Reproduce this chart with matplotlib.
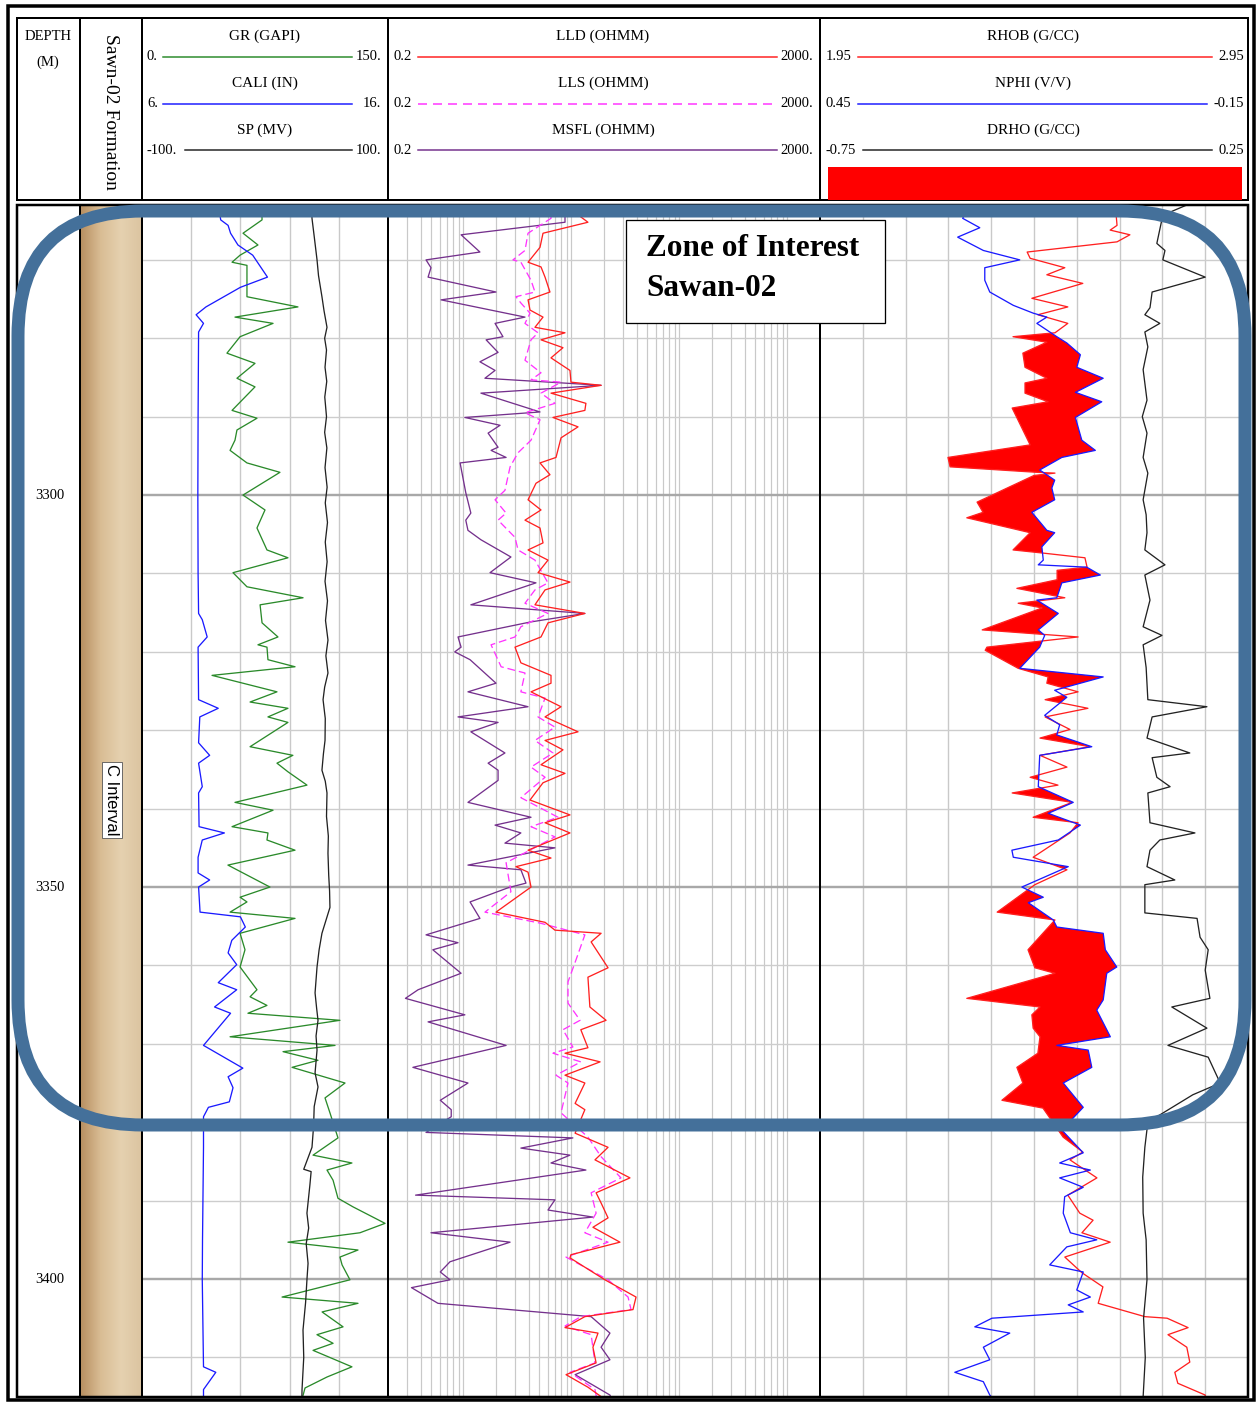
import numpy as np
import matplotlib.pyplot as plt
from matplotlib.patches import FancyBboxPatch, Rectangle

plt.rcParams['font.family'] = ['Liberation Serif', 'DejaVu Serif']

TOP, BASE = 3263.0, 3415.05

# (depth m, value) pairs
gr = [(3263.0, 73), (3264.9, 73.2), (3266.6, 61.6), (3268.1, 70.7), (3269.4, 59.8), (3270.3, 54.9),
      (3270.7, 64.0), (3274.7, 64.0), (3276.0, 95.1), (3277.3, 56.7), (3278.1, 79.9), (3279.8, 59.8),
      (3281.9, 51.8), (3283.2, 68.9), (3285.1, 57.9), (3286.2, 68.9), (3289.2, 54.9), (3290.2, 70.1),
      (3291.7, 57.9), (3293.0, 56.7), (3294.3, 53.7), (3295.9, 64.0), (3297.1, 84.1), (3300.0, 61.6),
      (3301.9, 75.0), (3304.2, 70.1), (3307.0, 76.2), (3308.0, 89.0), (3309.9, 55.5), (3311.7, 64.0),
      (3313.1, 98.2), (3314.0, 72.0), (3316.3, 73.2), (3318.1, 82.9), (3319.1, 70.7), (3319.4, 76.2),
      (3321.0, 76.8), (3321.9, 93.3), (3323.0, 42.7), (3325.1, 82.3), (3326.4, 65.9), (3327.2, 89.0),
      (3328.3, 76.8), (3329.0, 89.0), (3332.1, 65.9), (3333.2, 92.0), (3334.2, 82.3), (3335.3, 89.0),
      (3337.0, 100.6), (3339.2, 56.7), (3340.2, 79.9), (3342.3, 54.9), (3343.1, 76.8), (3344.0, 76.2),
      (3345.3, 93.3), (3347.2, 52.4), (3350.0, 78.0), (3351.3, 59.8), (3351.9, 64.0), (3353.2, 53.7),
      (3354.0, 93.3), (3355.9, 59.8), (3358.0, 62.8), (3360.2, 59.8), (3363.1, 70.1), (3364.0, 65.9),
      (3365.1, 76.2), (3366.1, 64.6), (3367.0, 120.7), (3369.1, 53.7), (3370.2, 117.7), (3371.0, 86.0),
      (3372.1, 107.3), (3373.0, 91.5), (3375.0, 123.8), (3376.9, 111.6), (3378.8, 114.6), (3382.0, 119.5),
      (3384.2, 104.3), (3385.2, 128.0), (3386.1, 112.8), (3387.4, 116.5), (3389.7, 119.5), (3390.8, 128.7),
      (3392.9, 148.2), (3394.1, 132.9), (3395.3, 89.0), (3396.3, 131.7), (3397.2, 120.7), (3398.2, 122.0),
      (3400.1, 126.8), (3402.3, 85.4), (3403.1, 131.7), (3404.2, 109.8), (3406.1, 122.6), (3407.1, 106.7),
      (3408.2, 116.5), (3409.1, 104.3), (3411.2, 128.0), (3412.5, 112.8), (3413.9, 99.4), (3415.0, 98.0)]

cali = [(3263.0, 9.1), (3264.9, 9.2), (3265.6, 9.5), (3266.6, 9.6), (3268.1, 9.9), (3269.4, 10.5),
        (3272.2, 11.1), (3273.5, 10.0), (3276.0, 8.6), (3277.0, 8.2), (3278.1, 8.5), (3279.2, 8.3),
        (3290.0, 8.28), (3300.0, 8.27), (3310.0, 8.28), (3315.1, 8.3), (3315.9, 8.45), (3318.1, 8.65),
        (3319.4, 8.28), (3326.1, 8.3), (3327.2, 9.1), (3328.3, 8.35), (3331.6, 8.3), (3333.2, 8.75),
        (3334.2, 8.3), (3337.2, 8.45), (3338.0, 8.3), (3342.3, 8.32), (3343.1, 9.35), (3344.0, 8.45),
        (3346.2, 8.28), (3348.2, 8.28), (3349.1, 8.75), (3350.0, 8.3), (3353.2, 8.36), (3353.8, 10.0),
        (3355.1, 10.2), (3356.8, 9.65), (3358.4, 9.5), (3359.9, 9.85), (3362.2, 9.1), (3363.1, 9.85),
        (3365.3, 8.95), (3366.1, 9.6), (3370.2, 8.5), (3373.1, 10.1), (3374.2, 9.5), (3375.6, 9.7),
        (3377.4, 9.55), (3378.1, 8.7), (3379.3, 8.5), (3383.2, 8.5), (3395.0, 8.46), (3400.1, 8.45),
        (3411.2, 8.5), (3411.9, 9.0), (3414.1, 8.5), (3415.0, 8.5)]

sp = [(3263.0, 38.0), (3264.7, 38.2), (3267.0, 40.0), (3270.0, 42.3), (3272.0, 43.5), (3274.7, 46.3),
      (3276.5, 48.0), (3278.6, 50.4), (3280.0, 48.5), (3281.5, 50.0), (3283.7, 48.8), (3285.5, 50.2),
      (3287.5, 48.6), (3290.0, 50.0), (3292.0, 48.5), (3294.0, 50.3), (3296.5, 48.8), (3299.0, 50.5),
      (3301.0, 49.0), (3303.5, 50.8), (3306.0, 49.0), (3308.5, 50.5), (3311.0, 48.8), (3313.5, 50.8),
      (3316.0, 49.2), (3318.5, 51.2), (3320.5, 49.5), (3322.7, 51.2), (3324.5, 48.5), (3326.1, 47.2),
      (3328.5, 49.0), (3331.3, 48.8), (3333.0, 47.5), (3335.1, 46.3), (3336.5, 49.0), (3338.0, 50.4),
      (3341.0, 50.0), (3343.5, 51.5), (3345.7, 51.2), (3348.5, 51.8), (3350.5, 52.5), (3352.6, 52.8),
      (3355.9, 46.3), (3358.0, 44.0), (3360.2, 42.3), (3363.5, 40.7), (3365.5, 42.0), (3367.0, 43.1),
      (3369.0, 41.5), (3370.8, 42.3), (3373.7, 40.7), (3375.5, 43.1), (3378.0, 40.0), (3380.5, 39.5),
      (3383.2, 38.2), (3386.0, 31.5), (3386.3, 37.5), (3388.0, 36.5), (3391.6, 34.1), (3393.5, 35.5),
      (3395.5, 33.5), (3398.0, 35.0), (3400.1, 34.1), (3403.0, 33.0), (3406.5, 30.9), (3410.0, 31.5),
      (3414.1, 30.1), (3415.0, 30.0)]

lld = [(3263.0, 8.7), (3265.2, 14.2), (3266.6, 5.45), (3268.4, 5.11), (3270.3, 3.96), (3270.9, 5.22),
       (3272.2, 5.69), (3274.1, 6.32), (3275.1, 3.96), (3276.4, 4.13), (3277.3, 5.45), (3278.6, 4.59),
       (3279.3, 8.71), (3280.2, 5.22), (3281.2, 8.34), (3282.5, 6.46), (3284.1, 9.68), (3285.6, 9.89),
       (3286.0, 18.8), (3287.0, 6.46), (3288.3, 13.6), (3289.2, 13.3), (3290.1, 6.74), (3291.3, 11.5),
       (3292.7, 8.0), (3295.2, 7.19), (3295.9, 5.11), (3297.4, 6.32), (3298.5, 4.69), (3300.6, 3.96),
       (3301.9, 5.22), (3303.2, 3.71), (3304.2, 5.11), (3306.1, 5.45), (3307.0, 3.96), (3308.3, 6.06),
       (3309.9, 4.9), (3311.1, 9.68), (3312.1, 5.69), (3314.0, 4.59), (3315.1, 13.3), (3316.3, 6.06),
       (3318.1, 5.22), (3319.4, 3.0), (3321.4, 3.40), (3323.0, 6.46), (3324.0, 6.46), (3325.1, 4.22),
       (3327.0, 8.0), (3328.3, 5.69), (3330.2, 11.5), (3331.3, 5.69), (3332.5, 8.34), (3334.4, 5.22),
       (3335.5, 8.71), (3336.7, 5.45), (3338.9, 4.13), (3340.8, 9.68), (3341.8, 5.69), (3343.1, 9.68),
       (3345.3, 3.96), (3346.3, 6.46), (3347.4, 3.06), (3348.1, 3.96), (3350.0, 4.22), (3353.2, 2.0),
       (3354.5, 5.69), (3355.5, 7.03), (3355.9, 18.8), (3357.0, 15.2), (3360.3, 21.8), (3361.5, 14.2),
       (3365.3, 14.8), (3367.0, 20.9), (3368.2, 12.2), (3370.5, 14.2), (3371.2, 8.71), (3372.3, 18.4),
       (3374.0, 8.71), (3375.0, 13.3), (3377.6, 10.8), (3378.4, 13.3), (3381.4, 10.8), (3383.2, 21.8),
       (3384.8, 16.5), (3387.1, 34.8), (3389.0, 16.9), (3390.3, 18.8), (3392.2, 21.8), (3393.4, 15.8),
       (3395.3, 28.1), (3396.9, 9.89), (3397.3, 9.68), (3400.1, 20.4), (3402.3, 39.6), (3403.9, 37.1),
       (3404.8, 13.3), (3406.2, 8.71), (3406.9, 17.6), (3408.7, 15.8), (3410.7, 16.9), (3412.2, 8.9),
       (3413.8, 14.2), (3415.0, 18.8)]

lls = [(3263.0, 6.5), (3264.7, 6.46), (3266.6, 3.96), (3268.8, 3.71), (3270.0, 2.87), (3270.3, 3.40),
       (3272.6, 4.22), (3274.1, 4.59), (3274.7, 3.06), (3275.5, 3.40), (3276.8, 4.13), (3278.1, 3.71),
       (3279.3, 4.9), (3280.2, 4.22), (3282.8, 3.71), (3284.4, 5.22), (3285.3, 4.22), (3285.6, 8.0),
       (3287.0, 5.22), (3288.3, 7.03), (3289.5, 3.71), (3290.4, 5.11), (3293.0, 4.22), (3294.6, 3.2),
       (3296.4, 2.70), (3299.4, 2.42), (3300.6, 1.96), (3302.3, 2.48), (3303.2, 2.09), (3305.4, 3.0),
       (3307.0, 3.2), (3308.3, 4.59), (3311.2, 6.06), (3312.1, 4.59), (3313.8, 3.71), (3315.1, 6.06),
       (3316.8, 3.40), (3318.1, 3.0), (3319.1, 1.80), (3321.9, 2.23), (3322.7, 3.71), (3325.1, 3.40),
       (3325.9, 5.69), (3328.3, 4.9), (3329.6, 7.03), (3331.3, 4.59), (3332.9, 6.74), (3334.7, 4.22),
       (3336.0, 5.69), (3338.6, 3.40), (3341.1, 7.5), (3342.3, 4.22), (3343.6, 7.03), (3346.9, 2.48),
       (3350.6, 2.75), (3353.2, 1.58), (3354.6, 5.11), (3356.1, 13.3), (3359.3, 11.0), (3362.1, 9.28),
       (3364.8, 9.28), (3367.0, 12.0), (3368.2, 8.34), (3370.4, 10.3), (3371.2, 6.74), (3372.3, 12.2),
       (3374.0, 7.19), (3375.0, 9.28), (3378.8, 8.0), (3381.9, 14.2), (3384.4, 18.8), (3387.1, 28.7),
       (3389.0, 15.2), (3391.6, 16.9), (3394.1, 13.3), (3395.3, 21.8), (3397.2, 8.9), (3400.1, 21.8),
       (3402.3, 33.4), (3403.9, 35.6), (3404.8, 12.2), (3406.0, 8.71), (3407.1, 15.2), (3410.7, 16.5),
       (3411.9, 9.68), (3414.1, 16.5), (3415.0, 17.0)]

msfl = [(3263.0, 8.7), (3265.2, 8.71), (3266.8, 0.95), (3269.0, 1.42), (3270.0, 0.45), (3271.0, 0.50),
        (3272.2, 0.47), (3274.1, 2.0), (3275.1, 0.62), (3277.3, 3.71), (3278.1, 1.96), (3279.8, 2.32),
        (3280.2, 1.62), (3281.8, 2.09), (3283.0, 1.42), (3284.1, 1.96), (3285.1, 1.58), (3286.0, 18.8),
        (3287.0, 1.45), (3289.4, 5.11), (3290.1, 1.03), (3291.1, 2.18), (3292.1, 1.69), (3293.9, 2.09),
        (3294.3, 1.80), (3295.2, 2.48), (3295.9, 0.93), (3299.7, 1.05), (3302.3, 1.17), (3303.2, 1.05),
        (3304.5, 1.10), (3305.7, 1.45), (3307.9, 2.75), (3309.9, 1.76), (3311.2, 4.69), (3314.0, 1.17),
        (3315.1, 13.3), (3316.2, 4.13), (3318.1, 0.89), (3319.4, 0.95), (3320.0, 0.83), (3321.0, 1.15),
        (3324.0, 2.0), (3325.1, 1.10), (3327.0, 3.96), (3328.3, 0.89), (3329.0, 2.09), (3330.2, 1.17),
        (3332.9, 2.42), (3334.2, 1.69), (3335.1, 2.09), (3336.4, 2.09), (3339.2, 1.10), (3341.1, 4.22),
        (3342.1, 1.96), (3343.1, 3.40), (3344.4, 2.42), (3345.0, 7.03), (3347.2, 1.10), (3347.8, 3.40),
        (3349.5, 3.79), (3350.1, 2.58), (3351.9, 1.15), (3354.0, 1.42), (3356.1, 0.45), (3357.1, 0.89),
        (3358.0, 0.52), (3361.0, 0.95), (3363.1, 0.38), (3364.2, 0.29), (3366.3, 1.03), (3367.2, 0.47),
        (3370.2, 2.48), (3373.0, 0.34), (3375.0, 1.10), (3377.2, 0.61), (3378.4, 0.77), (3379.3, 0.77),
        (3381.3, 0.45), (3382.0, 10.3), (3383.3, 3.40), (3384.2, 9.68), (3385.2, 6.46), (3386.1, 13.6),
        (3389.3, 0.36), (3389.9, 7.03), (3391.2, 6.06), (3392.1, 15.8), (3394.1, 0.50), (3395.3, 2.70),
        (3397.8, 0.75), (3399.1, 0.61), (3400.1, 0.75), (3401.1, 0.33), (3403.1, 0.58), (3404.8, 15.2),
        (3406.9, 22.7), (3408.7, 18.8), (3410.3, 22.7), (3412.2, 10.8), (3414.8, 22.7), (3415.0, 23.0)]

rhob = [(3263.0, 2.64), (3265.6, 2.644), (3266.2, 2.628), (3266.8, 2.674), (3267.7, 2.644), (3269.0, 2.434),
        (3269.8, 2.441), (3271.0, 2.522), (3271.9, 2.48), (3273.0, 2.564), (3274.9, 2.445), (3276.0, 2.529),
        (3277.0, 2.459), (3278.1, 2.529), (3279.3, 2.499), (3279.8, 2.401), (3280.5, 2.48), (3281.9, 2.424),
        (3283.7, 2.429), (3285.1, 2.48), (3285.7, 2.429), (3287.0, 2.429), (3288.1, 2.483), (3288.9, 2.399),
        (3293.6, 2.441), (3295.2, 2.249), (3296.4, 2.254), (3297.1, 2.457), (3297.2, 2.499), (3297.5, 2.45),
        (3300.9, 2.317), (3302.2, 2.331), (3302.9, 2.293), (3304.8, 2.441), (3307.0, 2.401), (3307.4, 2.471),
        (3308.0, 2.569), (3309.2, 2.574), (3309.6, 2.504), (3310.8, 2.504), (3311.9, 2.41), (3313.1, 2.522),
        (3313.8, 2.413), (3314.4, 2.469), (3317.2, 2.329), (3318.1, 2.553), (3319.4, 2.34), (3319.8, 2.336),
        (3322.1, 2.413), (3323.2, 2.483), (3324.0, 2.48), (3325.1, 2.553), (3326.1, 2.476), (3327.2, 2.576),
        (3328.3, 2.476), (3329.9, 2.534), (3331.0, 2.464), (3332.1, 2.581), (3333.2, 2.464), (3334.7, 2.527),
        (3336.0, 2.441), (3337.0, 2.506), (3338.0, 2.399), (3339.2, 2.539), (3341.1, 2.448), (3341.8, 2.553),
        (3343.1, 2.534), (3346.2, 2.448), (3347.8, 2.527), (3349.7, 2.452), (3353.2, 2.364), (3354.2, 2.499),
        (3358.0, 2.436), (3360.3, 2.452), (3361.0, 2.499), (3364.2, 2.293), (3365.3, 2.464), (3366.3, 2.445),
        (3368.0, 2.448), (3369.1, 2.464), (3371.2, 2.459), (3373.0, 2.41), (3375.0, 2.424), (3377.2, 2.375),
        (3378.2, 2.471), (3381.9, 2.518), (3383.8, 2.564), (3384.8, 2.534), (3387.1, 2.597), (3389.3, 2.529),
        (3391.6, 2.557), (3392.5, 2.588), (3394.1, 2.562), (3395.3, 2.628), (3397.2, 2.522), (3399.2, 2.562),
        (3401.0, 2.611), (3403.1, 2.60), (3404.8, 2.709), (3405.0, 2.761), (3406.2, 2.81), (3407.1, 2.763),
        (3408.7, 2.807), (3410.6, 2.814), (3411.9, 2.779), (3413.3, 2.786), (3414.8, 2.85), (3415.0, 2.85)]

nphi = [(3263.0, 0.24), (3264.7, 0.25), (3265.9, 0.226), (3267.1, 0.257), (3268.8, 0.221), (3270.0, 0.17),
        (3271.0, 0.219), (3272.6, 0.219), (3274.1, 0.212), (3275.8, 0.179), (3276.8, 0.151), (3277.3, 0.132),
        (3278.1, 0.146), (3279.8, 0.118), (3280.6, 0.104), (3282.1, 0.085), (3283.7, 0.09), (3285.1, 0.053),
        (3286.9, 0.092), (3288.1, 0.055), (3290.1, 0.092), (3293.0, 0.083), (3294.3, 0.064), (3295.2, 0.111),
        (3296.8, 0.142), (3298.1, 0.121), (3299.1, 0.125), (3300.6, 0.121), (3302.2, 0.153), (3304.5, 0.132),
        (3304.8, 0.121), (3306.6, 0.139), (3308.3, 0.137), (3308.9, 0.144), (3309.2, 0.076), (3310.2, 0.057),
        (3311.2, 0.111), (3313.1, 0.118), (3313.4, 0.146), (3315.1, 0.116), (3317.2, 0.144), (3317.9, 0.135),
        (3319.4, 0.142), (3322.1, 0.17), (3323.2, 0.053), (3324.9, 0.121), (3325.8, 0.104), (3328.1, 0.135),
        (3329.3, 0.114), (3330.6, 0.118), (3332.1, 0.069), (3333.2, 0.142), (3337.2, 0.144), (3339.2, 0.095),
        (3340.6, 0.13), (3342.1, 0.085), (3344.0, 0.116), (3345.3, 0.181), (3346.2, 0.179), (3347.4, 0.102),
        (3350.0, 0.167), (3351.3, 0.137), (3352.0, 0.158), (3354.2, 0.123), (3355.1, 0.118), (3355.9, 0.053),
        (3358.0, 0.05), (3360.2, 0.034), (3361.0, 0.048), (3364.4, 0.053), (3365.7, 0.062), (3369.1, 0.043),
        (3370.2, 0.118), (3370.8, 0.074), (3373.0, 0.069), (3375.0, 0.109), (3378.1, 0.081), (3381.0, 0.111),
        (3383.9, 0.081), (3385.2, 0.114), (3386.1, 0.071), (3387.1, 0.114), (3388.3, 0.081), (3389.5, 0.107),
        (3391.6, 0.109), (3394.1, 0.099), (3395.0, 0.062), (3395.9, 0.104), (3398.2, 0.128), (3399.1, 0.081),
        (3401.4, 0.09), (3402.3, 0.071), (3403.3, 0.102), (3404.2, 0.081), (3405.0, 0.209), (3406.1, 0.233),
        (3406.9, 0.184), (3408.7, 0.221), (3410.3, 0.212), (3411.9, 0.261), (3413.1, 0.221), (3414.8, 0.212),
        (3415.0, 0.21)]

drho = [(3263.0, 0.107), (3264.3, 0.051), (3267.9, 0.037), (3268.8, 0.056), (3270.0, 0.051), (3272.2, 0.15),
        (3274.1, 0.026), (3276.1, 0.021), (3277.0, 0.009), (3278.1, 0.044), (3279.2, 0.009), (3281.1, 0.016),
        (3284.0, 0.005), (3287.9, 0.014), (3290.0, 0.003), (3292.1, 0.014), (3295.2, 0.005), (3297.2, 0.016),
        (3300.6, 0.005), (3302.5, 0.012), (3304.8, 0.014), (3307.0, 0.009), (3308.9, 0.056), (3310.2, 0.009),
        (3313.4, 0.021), (3316.8, 0.005), (3317.9, 0.049), (3319.1, 0.005), (3322.0, 0.012), (3326.1, 0.016),
        (3327.0, 0.154), (3328.3, 0.026), (3331.0, 0.014), (3332.9, 0.114), (3333.5, 0.026), (3336.0, 0.037),
        (3337.2, 0.068), (3338.0, 0.016), (3341.8, 0.021), (3343.1, 0.126), (3344.0, 0.044), (3345.3, 0.021),
        (3347.4, 0.014), (3349.1, 0.079), (3349.7, 0.009), (3353.3, 0.009), (3354.0, 0.131), (3356.4, 0.138),
        (3358.0, 0.157), (3360.6, 0.15), (3364.2, 0.161), (3365.3, 0.072), (3368.0, 0.154), (3370.2, 0.063),
        (3371.7, 0.157), (3375.0, 0.185), (3376.5, 0.121), (3380.0, 0.016), (3383.2, 0.009), (3387.0, 0.004),
        (3391.6, 0.005), (3395.0, 0.012), (3400.1, 0.014), (3405.0, 0.006), (3410.0, 0.01), (3415.0, 0.005)]

depth_labels = [3300, 3350, 3400]


def unzip(pairs):
    a = np.array(pairs)
    return a[:, 0], a[:, 1]


W, H = 1259, 1408
PT = 0.72  # points per pixel at 100 dpi
fig = plt.figure(figsize=(W / 100, H / 100), dpi=100)
fig.patch.set_facecolor('white')


def track_axes(x0, x1, y0=205, y1=1397):
    ax = fig.add_axes([x0 / W, 1 - y1 / H, (x1 - x0) / W, (y1 - y0) / H])
    ax.set_ylim(BASE, TOP)
    ax.axis('off')
    return ax


def twin(ax, lo, hi, log=False):
    tw = ax.twiny()
    if log:
        tw.set_xscale('log')
    tw.set_xlim(lo, hi)
    tw.set_ylim(BASE, TOP)
    tw.axis('off')
    return tw


def depth_grid(ax):
    for d in range(3270, 3415, 10):
        major = d % 50 == 0
        ax.axhline(d, color='#a8a8a8' if major else '#cdcdcd',
                   lw=(2.4 if major else 1.4) * PT, zorder=0)


GRID = '#c9c9c9'
LW = 1.3 * PT

# track 1: GR / CALI / SP
t1 = track_axes(142, 388)
t1.set_xlim(0, 150)
for v in [30, 60, 90, 120]:
    t1.axvline(v, color=GRID, lw=1.4 * PT, zorder=0)
depth_grid(t1)
d, v = unzip(gr)
t1.plot(v, d, color='#2a8a2a', lw=LW)
t1c = twin(t1, 6, 16)
d, v = unzip(cali)
t1c.plot(v, d, color='#1a1aff', lw=LW)
t1s = twin(t1, -100, 100)
d, v = unzip(sp)
t1s.plot(v, d, color='#222222', lw=LW)

# track 2: resistivity, log scale
t2 = track_axes(388, 820)
t2.set_xscale('log')
t2.set_xlim(0.2, 2000)
for dec in [0.1, 1, 10, 100, 1000]:
    for m in range(1, 10):
        g = m * dec
        if 0.2 < g < 2000:
            t2.axvline(g, color=GRID, lw=1.2 * PT, zorder=0)
depth_grid(t2)
d, v = unzip(msfl)
t2.plot(v, d, color='#74308c', lw=LW, zorder=3)
t2b = twin(t2, 0.2, 2000, log=True)
d, v = unzip(lls)
t2b.plot(v, d, color='#ff33ff', lw=LW, ls=(0, (6, 3)))
t2c = twin(t2, 0.2, 2000, log=True)
d, v = unzip(lld)
t2c.plot(v, d, color='#ff2020', lw=LW)

# track 3: density / neutron / drho
t3 = track_axes(820, 1248)
t3.set_xlim(1.95, 2.95)
for g in np.arange(2.05, 2.95, 0.1):
    t3.axvline(g, color=GRID, lw=1.4 * PT, zorder=0)
depth_grid(t3)
rd, rv = unzip(rhob)
nd, nv = unzip(nphi)
zz = np.linspace(TOP, BASE, 6000)
rh = np.interp(zz, rd, rv)
nph_eq = 1.95 + (0.45 - np.interp(zz, nd, nv)) / 0.6
t3.fill_betweenx(zz, rh, nph_eq, where=nph_eq > rh, color='#ff0000', lw=0,
                 interpolate=True, zorder=1)
t3.plot(rv, rd, color='#ff2020', lw=LW, zorder=2)
t3n = twin(t3, 0.45, -0.15)
t3n.plot(nv, nd, color='#1a1aff', lw=LW)
t3d = twin(t3, -0.75, 0.25)
d, v = unzip(drho)
t3d.plot(v, d, color='#222222', lw=LW)

# depth track
td = track_axes(17, 80)
td.set_xlim(0, 1)
for dl in depth_labels:
    td.text(0.52, dl, str(dl), ha='center', va='center', fontsize=10.5)

# formation strip
tf = track_axes(80, 142)
grad = np.linspace(0, 1, 64)
cols = np.array([[0.72, 0.56, 0.38], [0.85, 0.74, 0.58], [0.90, 0.82, 0.69], [0.86, 0.77, 0.63]])
xs = np.linspace(0, 1, len(cols))
img = np.stack([np.interp(grad, xs, cols[:, k]) for k in range(3)], axis=-1)[None, :, :]
tf.imshow(img, extent=(0, 1, BASE, TOP), aspect='auto', zorder=0)
tf.set_xlim(0, 1)
tf.set_ylim(BASE, TOP)

# overlay in pixel units for frame, header and annotations
ov = fig.add_axes([0, 0, 1, 1])
ov.set_xlim(0, W)
ov.set_ylim(H, 0)
ov.axis('off')

ov.add_patch(Rectangle((8, 6), 1246, 1394, fill=False, ec='black', lw=3.5 * PT))
ov.add_patch(Rectangle((17, 18), 1231, 182, fill=False, ec='black', lw=2 * PT))
ov.add_patch(Rectangle((17, 205), 1231, 1192, fill=False, ec='black', lw=2.5 * PT))
for x in [80, 142, 388, 820]:
    ov.plot([x, x], [18, 200], color='black', lw=2 * PT)
    ov.plot([x, x], [205, 1397], color='black', lw=2 * PT)

fs = 11
ov.text(48, 36, 'DEPTH', ha='center', va='center', fontsize=10.5)
ov.text(48, 62, '(M)', ha='center', va='center', fontsize=10.5)
ov.text(111, 112, 'Sawn-02 Formation', ha='center', va='center', rotation=-90, fontsize=14)

header = [
    # (centre x, line x0, x1, left label x, right label x, rows)
    (265, 163, 352, 147, 381, [('GR (GAPI)', '0.', '150.', '#2a8a2a', '-', 0),
                               ('CALI (IN)', '6.', '16.', '#1a1aff', '-', 0),
                               ('SP (MV)', '-100.', '100.', '#222222', '-', 22)]),
    (603, 418, 777, 394, 813, [('LLD (OHMM)', '0.2', '2000.', '#ff2020', '-', 0),
                               ('LLS (OHMM)', '0.2', '2000.', '#ff33ff', (0, (6, 4)), 0),
                               ('MSFL (OHMM)', '0.2', '2000.', '#74308c', '-', 0)]),
    (1033, 858, 1212, 826, 1244, [('RHOB (G/CC)', '1.95', '2.95', '#ff2020', '-', 0),
                                  ('NPHI (V/V)', '0.45', '-0.15', '#1a1aff', '-', 0),
                                  ('DRHO (G/CC)', '-0.75', '0.25', '#222222', '-', 5)]),
]
for cx, lx0, lx1, llx, rlx, rows in header:
    for i, (name, lo, hi, col, ls, shift) in enumerate(rows):
        ty = 36 + i * 47
        ly = 57 + i * 46.5
        ov.text(cx, ty, name, ha='center', va='center', fontsize=fs)
        x1 = lx1 - (5 if hi.startswith('-') else 0)
        ov.plot([lx0 + shift, x1], [ly, ly], color=col, lw=1.5 * PT, ls=ls)
        ov.text(llx, ly, lo, ha='left', va='center', fontsize=10.5)
        ov.text(rlx, ly, hi, ha='right', va='center', fontsize=10.5)
ov.add_patch(Rectangle((828, 167), 414, 33, fc='#ff0000', ec='none'))

ov.text(112, 800, 'C Interval', ha='center', va='center', rotation=-90, fontsize=12,
        family='Liberation Sans',
        bbox=dict(boxstyle='square,pad=0.15', fc='white', ec='#555555', lw=0.6))

ov.add_patch(FancyBboxPatch((18, 211), 1227, 914, boxstyle='round,pad=0,rounding_size=125',
                            fill=False, ec='#44709a', lw=13 * PT, zorder=10))
ov.add_patch(Rectangle((626, 220), 259, 103, fc='white', ec='black', lw=1.3 * PT, zorder=11))
ov.text(646, 249, 'Zone of Interest', ha='left', va='center', fontsize=22.5,
        fontweight='bold', zorder=12)
ov.text(646, 288, 'Sawan-02', ha='left', va='center', fontsize=22.5,
        fontweight='bold', zorder=12)

fig.savefig('out.png', dpi=100)
